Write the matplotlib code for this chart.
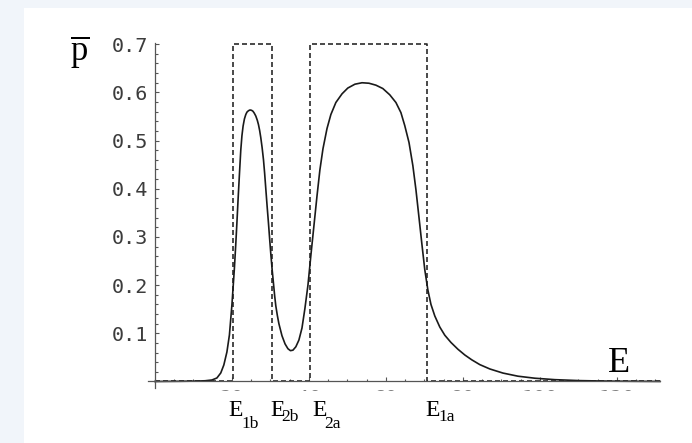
import matplotlib
matplotlib.use('Agg')
import numpy as np
import matplotlib.pyplot as plt
from matplotlib.patches import Rectangle
from matplotlib.ticker import MultipleLocator
from matplotlib.transforms import Bbox

plt.rcParams['mathtext.fontset'] = 'custom'
plt.rcParams['mathtext.rm'] = 'Liberation Serif'

# curve
energy = [0.0, 6.5, 10.4, 13.0, 14.8, 16.1, 17.1, 17.9, 18.7, 19.35, 20.0, 20.65,
          21.0, 21.3, 21.6, 21.95, 22.3, 22.6, 22.9, 23.25, 23.6, 23.9, 24.3,
          24.7, 25.1, 25.45, 25.8, 26.2, 26.6, 26.9, 27.2, 27.5, 27.85, 28.2,
          28.5, 28.8, 29.15, 29.5, 29.8, 30.1, 30.45, 30.8, 31.1, 31.4, 31.8,
          32.2, 33.0, 33.8, 34.55, 35.2, 35.85, 36.6, 37.4, 38.2, 38.95, 39.75,
          40.5, 41.3, 42.1, 42.85, 43.65, 44.7, 45.7, 47.0, 48.6, 50.1, 51.95,
          53.8, 55.6, 57.4, 59.2, 61.0, 62.6, 63.9, 64.9, 66.0, 67.0, 67.8, 68.6,
          69.35, 70.1, 70.9, 71.7, 72.7, 74.0, 75.3, 76.9, 78.7, 80.5, 82.3,
          84.4, 87.0, 90.4, 94.3, 98.7, 103.9, 110.4, 118.2, 126.0, 131.2]
p_bar = [0.0, 0.0004, 0.0008, 0.0015, 0.0031, 0.0073, 0.0177, 0.0343, 0.0613,
         0.0966, 0.159, 0.236, 0.285, 0.33, 0.378, 0.43, 0.48, 0.51, 0.53, 0.545,
         0.554, 0.559, 0.562, 0.5635, 0.5628, 0.561, 0.557, 0.551, 0.542, 0.533,
         0.521, 0.506, 0.485, 0.46, 0.432, 0.400, 0.363, 0.328, 0.296, 0.265,
         0.232, 0.203, 0.178, 0.157, 0.137, 0.12, 0.095, 0.078, 0.068, 0.064,
         0.065, 0.072, 0.086, 0.111, 0.151, 0.200, 0.261, 0.323, 0.385, 0.439,
         0.483, 0.525, 0.554, 0.579, 0.597, 0.609, 0.617, 0.620, 0.619, 0.615,
         0.608, 0.595, 0.579, 0.558, 0.531, 0.496, 0.448, 0.398, 0.340, 0.285,
         0.232, 0.19, 0.160, 0.136, 0.113, 0.096, 0.081, 0.067, 0.055, 0.045,
         0.035, 0.026, 0.0175, 0.011, 0.0068, 0.0038, 0.0018, 0.0007, 0.0003,
         0.0001]

edges = [20.2, 30.3, 40.4, 70.6]          # E1b, E2b, E2a, E1a
edge_subs = ['1b', '2b', '2a', '1a']
box_height = 0.7
x_end = 131.2

y_ticks = [0.1, 0.2, 0.3, 0.4, 0.5, 0.6, 0.7]
y_labels = ['0.1', '0.2', '0.3', '0.4', '0.5', '0.6', '0.7']
x_ticks = [20, 40, 60, 80, 100, 120]
x_labels = ['20', '40', '60', '80', '100', '120']

W, H = 692, 443
fig = plt.figure(figsize=(W / 100, H / 100), dpi=100)
fig.patch.set_facecolor('#f1f5fa')
fig.add_artist(Rectangle((24 / W, 0), 1, 1 - 8 / H, transform=fig.transFigure,
                         facecolor='white', edgecolor='none', zorder=-5))

ax = fig.add_axes([148 / W, 55 / H, 512 / W, 345 / H])
ax.patch.set_visible(False)
ax.set_xlim(-1.8, x_end)
ax.set_ylim(-0.0135, 0.7025)

for s in ['top', 'right']:
    ax.spines[s].set_visible(False)
for s in ['left', 'bottom']:
    ax.spines[s].set_position(('data', 0))
    ax.spines[s].set_color('#555555')
    ax.spines[s].set_linewidth(0.9)

# step window (dashed)
e1b, e2b, e2a, e1a = edges
sx = [0, e1b, e1b, e2b, e2b, e2a, e2a, e1a, e1a, x_end]
sy = [0, 0, box_height, box_height, 0, 0, box_height, box_height, 0, 0]
ax.plot(sx, sy, color='#2a2a2a', lw=1.2, dashes=(3.0, 1.8), clip_on=False)

ax.plot(energy, p_bar, color='#1a1a1a', lw=1.2, clip_on=False)

ax.set_yticks(y_ticks, labels=y_labels)
ax.yaxis.set_minor_locator(MultipleLocator(0.02))
ax.set_xticks(x_ticks, labels=x_labels)
ax.xaxis.set_minor_locator(MultipleLocator(5))
ax.tick_params(which='both', direction='in', color='#555555', width=0.8)
ax.tick_params(which='major', length=3.2)
ax.tick_params(which='minor', length=1.8)
ax.tick_params(axis='y', pad=5, labelsize=14.5, labelcolor='#3c3c3c')
ax.tick_params(axis='x', pad=5.4, labelsize=14.5, labelcolor='#808080')
for lbl in ax.get_yticklabels():
    lbl.set_fontfamily('DejaVu Sans Mono')

# x tick labels only show their clipped tops
clip = Bbox.from_extents(0, H - 391, W, H - 389)
for lbl in ax.get_xticklabels():
    lbl.set_fontfamily('DejaVu Sans Mono')
    lbl.set_clip_box(clip)
    lbl.set_clip_on(True)

# axis labels
fig.text(70 / W, 1 - 60 / H, r'$\overline{\mathrm{p}}$', fontsize=25, va='baseline')
fig.text(608 / W, 1 - 372 / H, 'E', fontsize=26, family='Liberation Serif', va='baseline')

# edge labels: E with subscripts
e_left = [228, 270, 312, 425.5]
sub_left = [241, 281, 324, 438.5]
sub_base = [428, 421, 428, 421]
for name, ex, sx_, sb in zip(edge_subs, e_left, sub_left, sub_base):
    fig.text(ex / W, 1 - 416 / H, 'E', fontsize=17, family='Liberation Serif', va='baseline')
    fig.text(sx_ / W, 1 - sb / H, name, fontsize=12.5, family='Liberation Serif', va='baseline')

fig.savefig('out.png', dpi=100, facecolor=fig.get_facecolor())
